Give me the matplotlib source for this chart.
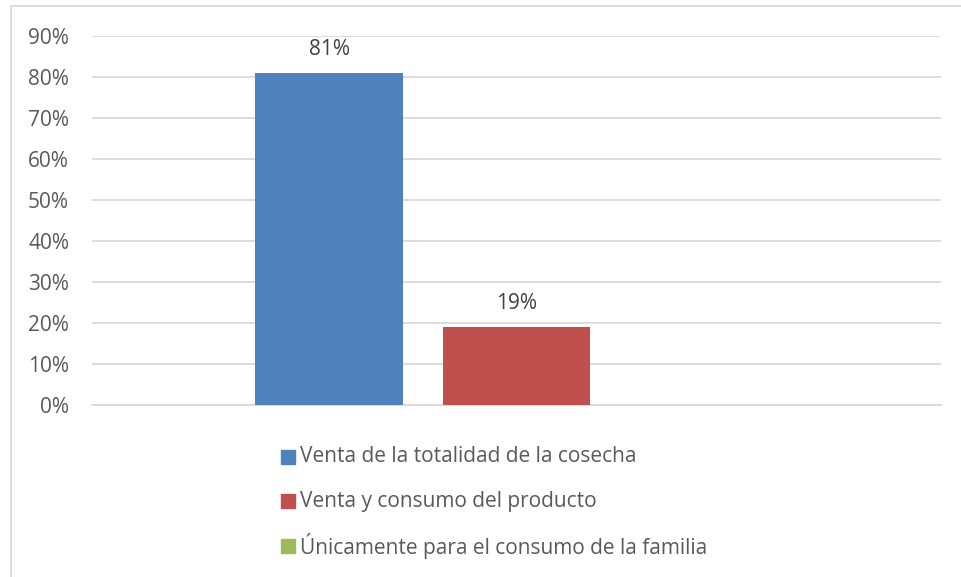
import matplotlib
matplotlib.use("Agg")
import matplotlib.pyplot as plt
from matplotlib.patches import Rectangle
from matplotlib.ticker import FuncFormatter

# datos
series = ["Venta de la totalidad de la cosecha",
          "Venta y consumo del producto",
          "Únicamente para el consumo de la familia"]
valores = [81, 19, 0]
colores = ["#4F81BD", "#C0504D", "#9BBB59"]
yticks = list(range(0, 100, 10))

W, H = 961, 577
plt.rcParams['font.family'] = ['Open Sans', 'DejaVu Sans']
txt = "#595959"
fs = 15

fig = plt.figure(figsize=(W / 100, H / 100), dpi=100)
ax = fig.add_axes([92 / W, 1 - 405 / H, (941 - 92) / W, (405 - 36) / H])

pos = [-0.2208, 0.0, 0.2208]
for p, v, c in zip(pos, valores, colores):
    ax.bar(p, v, width=0.1743, color=c, zorder=3)
    if v > 0:
        ax.annotate("{}%".format(v), (p, v), xytext=(0, 17), textcoords="offset points",
                    ha="center", va="center", color="#404040", fontsize=fs)

ax.set_xlim(-0.5, 0.5)
ax.set_ylim(0, 90)
ax.set_yticks(yticks)
ax.yaxis.set_major_formatter(FuncFormatter(lambda v, _: "{:.0f}%".format(v)))
ax.set_xticks([])
ax.tick_params(axis="y", length=0, pad=16.5, labelsize=fs, labelcolor=txt)
ax.grid(axis="y", color="#D9D9D9", lw=1.3, zorder=0)
for s in ["top", "right", "left"]:
    ax.spines[s].set_visible(False)
ax.spines["bottom"].set_color("#D9D9D9")
ax.spines["bottom"].set_linewidth(1.3)

# leyenda
for i, (lab, c) in enumerate(zip(series, colores)):
    yc = [457, 501, 546][i]
    fig.add_artist(Rectangle((281 / W, 1 - (yc + 7) / H), 14 / W, 14 / H,
                             transform=fig.transFigure, color=c))
    fig.text(300 / W, 1 - yc / H, lab, va="center", ha="left", color=txt, fontsize=fs)

# borde del grafico
fig.add_artist(Rectangle((11 / W, -0.1), 1.2, 1 - 6 / H + 0.1, transform=fig.transFigure,
                         fill=False, edgecolor="#D9D9D9", lw=1.3))

fig.savefig("out.png", dpi=100)
